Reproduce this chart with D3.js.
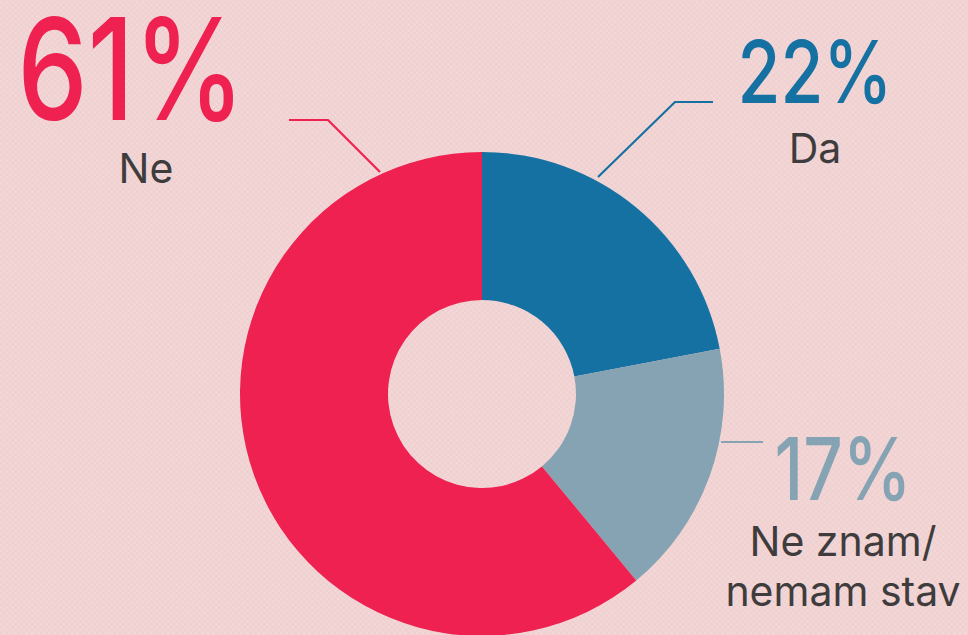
<!DOCTYPE html>
<html>
<head>
<meta charset="utf-8">
<script src="https://cdn.jsdelivr.net/npm/d3@7"></script>
<style>
  body { margin: 0; background: #f1d3d3; overflow: hidden; }
  text { font-family: "Inter", "Noto Sans", sans-serif; }
</style>
</head>
<body>
<div id="holder"></div>
<script>
// chart data
var labels = ["Da", "Ne znam/\nnemam stav", "Ne"];
var values = [22, 17, 61];
var colors = ["#1671a3", "#85a3b3", "#ee2151"];

var width = 968, height = 635;
var cx = 482, cy = 394;

var svg = d3.select("#holder")
            .append("svg")
            .attr("width", width)
            .attr("height", height);

// fine fabric-like texture
var defs = svg.append("defs");
var pat = defs.append("pattern")
              .attr("id", "tex")
              .attr("width", 4)
              .attr("height", 4)
              .attr("patternUnits", "userSpaceOnUse")
              .attr("patternTransform", "rotate(45)");
pat.append("rect").attr("width", 4).attr("height", 4).attr("fill", "#f1d3d3");
pat.append("line").attr("x1", 0).attr("y1", 0).attr("x2", 4).attr("y2", 0)
   .attr("stroke", "#f7e2e0").attr("stroke-width", 1);
pat.append("line").attr("x1", 0).attr("y1", 0).attr("x2", 0).attr("y2", 4)
   .attr("stroke", "#e9c6c7").attr("stroke-width", 0.8);

svg.append("rect")
   .attr("width", width)
   .attr("height", height)
   .attr("fill", "url(#tex)");

var pie = d3.pie().sort(null).value(d => d);
var arc = d3.arc().innerRadius(94).outerRadius(242);

var g = svg.append("g").attr("transform", "translate(" + cx + "," + cy + ")");

g.selectAll("path")
 .data(pie(values))
 .enter()
 .append("path")
 .attr("d", arc)
 .attr("fill", (d, i) => colors[i]);

// leader lines, pointing from label to the ring
var leaders = [
  [[713, 102], [675, 102], [598, 177]],
  [[763, 442], [721, 442]],
  [[289, 120], [328, 120], [380, 172]]
];
svg.selectAll(".leader")
   .data(leaders)
   .enter()
   .append("path")
   .attr("class", "leader")
   .attr("d", d3.line())
   .attr("fill", "none")
   .attr("stroke", (d, i) => colors[i])
   .attr("stroke-width", 2.2);

// labels
var labelPos = [
  {x: 815, y: 103, size: 87, w: 155, ly: 163},
  {x: 843, y: 500, size: 87, w: 137, ly: 556},
  {x: 131, y: 120, size: 141, w: 227, ly: 183}
];

values.forEach(function(v, i) {
  var p = labelPos[i];
  svg.append("text")
     .attr("x", p.x)
     .attr("y", p.y)
     .attr("text-anchor", "middle")
     .attr("fill", colors[i])
     .attr("font-size", p.size)
     .attr("font-weight", 500)
     .attr("textLength", p.w)
     .attr("lengthAdjust", "spacingAndGlyphs")
     .text(v + "%");

  var t = svg.append("text")
             .attr("text-anchor", "middle")
             .attr("fill", "#3f3c3d")
             .attr("font-size", 41);
  labels[i].split("\n").forEach(function(line, j) {
    t.append("tspan")
     .attr("x", p.x + (i == 2 ? 15 : 0))
     .attr("y", p.ly + j * 50)
     .text(line);
  });
});
</script>
</body>
</html>
